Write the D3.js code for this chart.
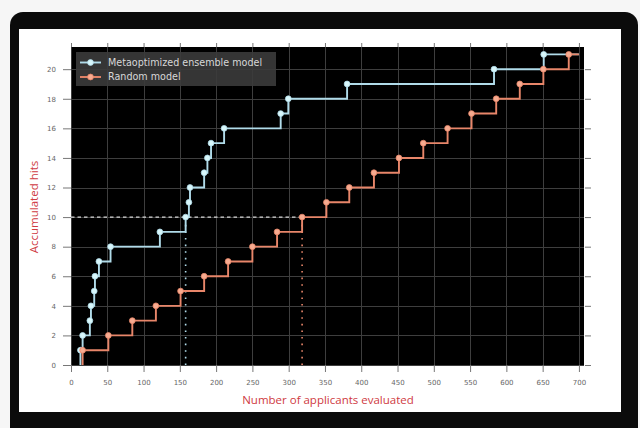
<!DOCTYPE html>
<html>
<head>
<meta charset="utf-8">
<script src="https://cdn.jsdelivr.net/npm/d3@7"></script>
<style>
  html, body { margin: 0; padding: 0; background: #f6f6f6; }
  svg { display: block; }
</style>
</head>
<body>
<svg id="chart" width="640" height="428"></svg>
<script>
// Applicants evaluated at the moment each new hit was found
const ensembleApplicants = [13, 16, 26, 27.5, 32, 33, 38.5, 54.5, 122.5, 158, 162.5, 164, 183.5, 188, 193, 211, 289, 299.5, 380.5, 583, 651.5];
const ensembleHits       = [1, 2, 3, 4, 5, 6, 7, 8, 9, 10, 11, 12, 13, 14, 15, 16, 17, 18, 19, 20, 21];
const randomApplicants   = [16, 51.5, 84.5, 117, 151, 183.5, 216.5, 250, 284, 318.5, 352, 383.5, 417.5, 452, 485.5, 519, 552, 586, 618.5, 651, 686];
const randomHits         = [1, 2, 3, 4, 5, 6, 7, 8, 9, 10, 11, 12, 13, 14, 15, 16, 17, 18, 19, 20, 21];
const totalApplicants = 700;
const targetHits = 10;

const seriesNames = ["Metaoptimized ensemble model", "Random model"];
const xTickValues = [0, 50, 100, 150, 200, 250, 300, 350, 400, 450, 500, 550, 600, 650, 700];
const yTickValues = [0, 2, 4, 6, 8, 10, 12, 14, 16, 18, 20];
const xLabel = "Number of applicants evaluated";
const yLabel = "Accumulated hits";

const svg = d3.select("#chart");

// Dark bezel with the white card inside
svg.append("rect").attr("x", 10).attr("y", 12).attr("width", 628).attr("height", 440)
  .attr("rx", 13).attr("fill", "#0b0b0b");
svg.append("rect").attr("x", 19).attr("y", 29).attr("width", 602).attr("height", 383)
  .attr("fill", "#ffffff");

const x = d3.scaleLinear().domain([0, 707]).range([71, 584]);
const y = d3.scaleLinear().domain([0, 21.5]).range([365, 47]);

// Axes background
svg.append("rect")
  .attr("x", x(0)).attr("y", y(21.5))
  .attr("width", x(707) - x(0)).attr("height", y(0) - y(21.5))
  .attr("fill", "#000");

// Grid
const grid = svg.append("g").attr("stroke", "#3e3e3e").attr("stroke-width", 1);
grid.selectAll(".gx").data(xTickValues).join("line")
  .attr("x1", d => Math.round(x(d)) + 0.5).attr("x2", d => Math.round(x(d)) + 0.5)
  .attr("y1", y(21.5)).attr("y2", y(0));
grid.selectAll(".gy").data(yTickValues).join("line")
  .attr("y1", d => Math.round(y(d)) + 0.5).attr("y2", d => Math.round(y(d)) + 0.5)
  .attr("x1", x(0)).attr("x2", x(707));

// Axes with ticks on all four sides
function styleAxis(g) {
  g.select(".domain").remove();
  g.selectAll(".tick line").attr("stroke", "#777");
  g.selectAll(".tick text").attr("fill", "#666")
    .style("font-family", "DejaVu Sans, sans-serif").style("font-size", "7px");
}
svg.append("g").attr("transform", `translate(0,${y(0)})`)
  .call(d3.axisBottom(x).tickValues(xTickValues).tickSize(7).tickPadding(8).tickFormat(d3.format("d")))
  .call(styleAxis);
svg.append("g").attr("transform", `translate(0,${y(21.5)})`)
  .call(d3.axisTop(x).tickValues(xTickValues).tickSize(4).tickFormat(""))
  .call(styleAxis);
svg.append("g").attr("transform", `translate(${x(0)},0)`)
  .call(d3.axisLeft(y).tickValues(yTickValues).tickSize(8).tickPadding(7).tickFormat(d3.format("d")))
  .call(styleAxis);
svg.append("g").attr("transform", `translate(${x(707) + 1},0)`)
  .call(d3.axisRight(y).tickValues(yTickValues).tickSize(6).tickFormat(""))
  .call(styleAxis);

// Series
const series = [
  { name: seriesNames[0], xs: ensembleApplicants, hs: ensembleHits, line: "#b0dbe9", fill: "#d8f7fb" },
  { name: seriesNames[1], xs: randomApplicants,   hs: randomHits,   line: "#e8866a", fill: "#f7ab90" }
];
series.forEach(s => {
  s.points = s.xs.map((a, i) => ({ a, h: s.hs[i] }));
  s.atTarget = s.points.find(p => p.h === targetHits).a;
});

// Reference lines: applicants needed to reach the target number of hits
svg.append("line")
  .attr("x1", x(0)).attr("x2", x(series[1].atTarget))
  .attr("y1", y(targetHits)).attr("y2", y(targetHits))
  .attr("stroke", "#d8d8d8").attr("stroke-width", 1.4).attr("stroke-dasharray", "3.5,3");
series.forEach(s => {
  svg.append("line")
    .attr("x1", x(s.atTarget)).attr("x2", x(s.atTarget))
    .attr("y1", y(0)).attr("y2", y(targetHits))
    .attr("stroke", s.line).attr("stroke-width", 1.6).attr("stroke-dasharray", "1.6,5");
});

const line = d3.line().x(d => x(d.a)).y(d => y(d.h)).curve(d3.curveStepAfter);
series.forEach(s => {
  const first = s.points[0], last = s.points[s.points.length - 1];
  const path = [{ a: first.a, h: 0 }, ...s.points, { a: totalApplicants, h: last.h }];
  svg.append("path").datum(path)
    .attr("d", line).attr("fill", "none")
    .attr("stroke", s.line).attr("stroke-width", 1.9);
  svg.append("g").selectAll("circle").data(s.points).join("circle")
    .attr("cx", d => x(d.a)).attr("cy", d => y(d.h)).attr("r", 2.9)
    .attr("fill", s.fill).attr("stroke", s.line).attr("stroke-width", 0.8);
});

// Legend
const legend = svg.append("g");
legend.append("rect").attr("x", 76).attr("y", 52).attr("width", 200).attr("height", 34)
  .attr("fill", "#3b3b3b").attr("opacity", 0.9);
series.forEach((s, i) => {
  const ly = 62.5 + i * 14.5;
  legend.append("line").attr("x1", 80).attr("x2", 101).attr("y1", ly).attr("y2", ly)
    .attr("stroke", s.line).attr("stroke-width", 1.9);
  legend.append("circle").attr("cx", 90.5).attr("cy", ly).attr("r", 2.9)
    .attr("fill", s.fill).attr("stroke", s.line).attr("stroke-width", 0.8);
  legend.append("text").attr("x", 108).attr("y", ly).attr("dy", "0.35em")
    .attr("fill", "#d8d8d8").style("font-family", "DejaVu Sans, sans-serif").style("font-size", "9.6px")
    .text(s.name);
});

// Axis titles
svg.append("text").attr("x", 328).attr("y", 404).attr("text-anchor", "middle")
  .attr("fill", "#cf3a42").style("font-family", "Open Sans, sans-serif").style("font-size", "11.5px")
  .text(xLabel);
svg.append("text").attr("transform", "translate(38,207) rotate(-90)").attr("text-anchor", "middle")
  .attr("fill", "#cf3a42").style("font-family", "Open Sans, sans-serif").style("font-size", "11.5px")
  .text(yLabel);
</script>
</body>
</html>
